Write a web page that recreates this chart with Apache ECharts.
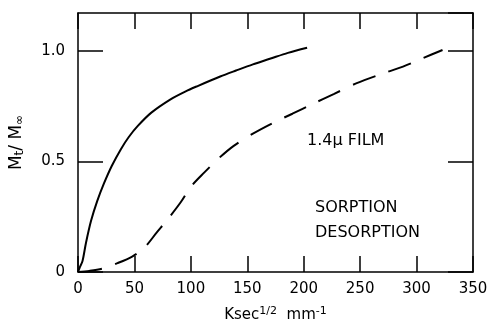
<!DOCTYPE html>
<html>
<head>
<meta charset="utf-8">
<script src="https://cdn.jsdelivr.net/npm/echarts@6/dist/echarts.min.js"></script>
<style>
  html, body { margin: 0; padding: 0; background: #fff; }
  #chart { width: 496px; height: 328px; }
</style>
</head>
<body>
<div id="chart"></div>
<script>
// sorption curve (solid)
var sorpX = [0, 1.5, 4, 7, 11.5, 17, 23, 30, 38, 45, 53, 65, 82, 95, 106, 126, 140, 155, 170, 186, 203];
var sorpY = [0, 0.02, 0.05, 0.13, 0.23, 0.32, 0.40, 0.48, 0.555, 0.61, 0.66, 0.72, 0.78, 0.815, 0.84, 0.883, 0.91, 0.938, 0.963, 0.99, 1.013];
// desorption curve (dashed)
var desX = [0, 10, 23, 35, 48, 58, 70, 79, 91, 100, 112, 125, 138, 155, 173, 190, 207, 227, 247, 268, 288, 305, 323];
var desY = [0, 0.005, 0.017, 0.04, 0.07, 0.105, 0.18, 0.235, 0.315, 0.385, 0.45, 0.515, 0.57, 0.625, 0.674, 0.715, 0.757, 0.805, 0.853, 0.893, 0.928, 0.965, 1.003];
var xTicks = [0, 50, 100, 150, 200, 250, 300, 350];
var yTicks = [0, 0.5, 1.0];

function pairs(xs, ys) {
    return xs.map(function (x, i) { return [x, ys[i]]; });
}

var font = 'DejaVu Sans';
var chart = echarts.init(document.getElementById('chart'));

var frameLine = { onZero: false, lineStyle: { color: '#000', width: 1.5 } };

var option = {
    backgroundColor: '#fff',
    animation: false,
    grid: { left: 77, right: 23, top: 13, bottom: 51 },
    xAxis: [{
        type: 'value', min: 0, max: 350, interval: 50,
        axisLine: frameLine,
        axisTick: { inside: true, length: 16, lineStyle: { color: '#000', width: 1.5 } },
        axisLabel: {
            color: '#000', fontFamily: font, fontSize: 15, margin: 10,
            formatter: function (v) { return xTicks.indexOf(v) >= 0 ? String(v) : ''; }
        },
        splitLine: { show: false },
        name: 'Ksec{sup|1/2}  mm{sup|-1}',
        nameLocation: 'middle', nameGap: 34,
        nameTextStyle: {
            color: '#000', fontFamily: font, fontSize: 15,
            rich: { sup: { fontSize: 11, verticalAlign: 'top', padding: [0, 0, 8, 0], fontFamily: font, color: '#000' } }
        }
    }, {
        type: 'value', min: 0, max: 350, interval: 50, position: 'top',
        axisLine: frameLine,
        axisTick: { inside: true, length: 16, lineStyle: { color: '#000', width: 1.5 } },
        axisLabel: { show: false },
        splitLine: { show: false }
    }],
    yAxis: [{
        type: 'value', min: 0, max: 1.17, interval: 0.5,
        axisLine: frameLine,
        axisTick: { inside: true, length: 25, lineStyle: { color: '#000', width: 1.5 } },
        axisLabel: {
            color: '#000', fontFamily: font, fontSize: 15, margin: 13, showMaxLabel: false,
            formatter: function (v) {
                if (yTicks.indexOf(v) < 0) return '';
                return v === 0 ? '0' : v.toFixed(1);
            }
        },
        splitLine: { show: false },
        name: 'M{sub|t}/ M{sub|\u221e}',
        nameLocation: 'middle', nameGap: 52, nameRotate: 90,
        nameTextStyle: {
            color: '#000', fontFamily: font, fontSize: 17,
            rich: { sub: { fontSize: 12, verticalAlign: 'bottom', padding: [7, 0, 0, 0], fontFamily: font, color: '#000' } }
        }
    }, {
        type: 'value', min: 0, max: 1.17, interval: 0.5, position: 'right',
        axisLine: frameLine,
        axisTick: { inside: true, length: 25, lineStyle: { color: '#000', width: 1.5 } },
        axisLabel: { show: false },
        splitLine: { show: false }
    }],
    graphic: [
        { type: 'text', left: 307, top: 133, style: { text: '1.4\u03bc FILM', font: '16px "DejaVu Sans"', fill: '#000' } },
        { type: 'text', left: 315, top: 200, style: { text: 'SORPTION', font: '16px "DejaVu Sans"', fill: '#000' } },
        { type: 'text', left: 315, top: 225, style: { text: 'DESORPTION', font: '16px "DejaVu Sans"', fill: '#000' } }
    ],
    series: [{
        name: 'SORPTION', type: 'line', smooth: 0.3, showSymbol: false,
        xAxisIndex: 0, yAxisIndex: 0,
        data: pairs(sorpX, sorpY),
        lineStyle: { color: '#000', width: 2 }
    }, {
        name: 'DESORPTION', type: 'line', smooth: 0.3, showSymbol: false,
        xAxisIndex: 0, yAxisIndex: 0,
        data: pairs(desX, desY),
        lineStyle: { color: '#000', width: 2, type: [24, 14] }
    }]
};

chart.setOption(option);
</script>
</body>
</html>
